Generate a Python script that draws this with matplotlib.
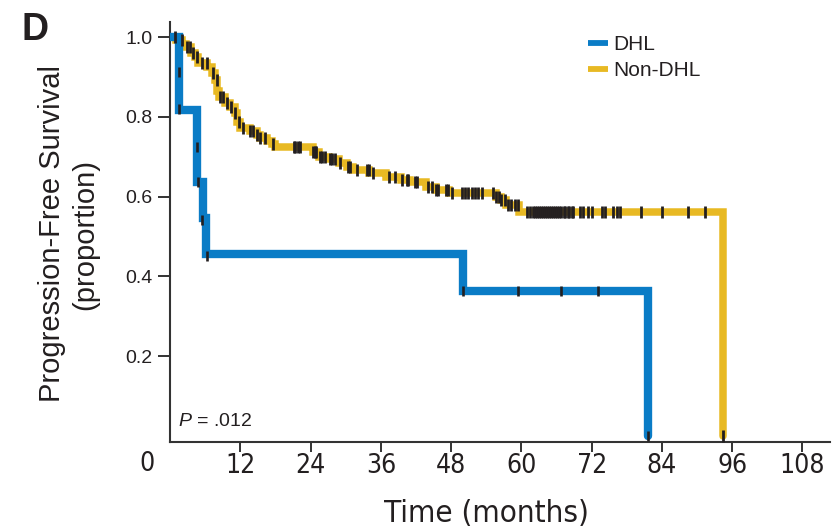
import matplotlib
matplotlib.use("Agg")
import matplotlib.pyplot as plt
from matplotlib.lines import Line2D
from matplotlib import font_manager
import numpy as np

plt.rcParams['font.family'] = ['Liberation Sans', 'DejaVu Sans']
plt.rcParams['mathtext.fontset'] = 'custom'
plt.rcParams['mathtext.it'] = 'Liberation Sans:italic'
plt.rcParams['mathtext.rm'] = 'Liberation Sans'

# Kaplan-Meier steps: time of event (months) and survival after the drop
dhl_t = [0, 1.5, 4.6, 5.6, 6.2, 50.0, 81.6]
dhl_s = [1.0, 0.818, 0.636, 0.545, 0.455, 0.364, 0.0]
# censor marks for DHL (time, level)
dhl_cens_t = [1.5, 1.5, 4.55, 4.8, 5.5, 6.3, 50.0, 59.4, 66.8, 73.1, 81.6]
dhl_cens_s = [0.913, 0.819, 0.725, 0.637, 0.541, 0.452, 0.364, 0.364, 0.364, 0.364, 0.0]

non_t = [0, 1.0, 2.0, 2.8, 3.6, 4.3, 4.8, 6.4, 7.2, 7.7, 8.0, 8.4, 9.4, 10.3, 11.1,
         11.5, 11.9, 13.6, 14.8, 15.4, 16.5, 17.4, 18.0, 24.4, 25.4, 27.2, 28.8,
         30.3, 31.2, 34.0, 36.8, 39.4, 41.0, 43.7, 45.4, 47.6, 55.6, 56.5, 57.4,
         59.6, 94.4]
non_s = [1.0, 0.992, 0.984, 0.976, 0.960, 0.951, 0.934, 0.926, 0.909, 0.892, 0.866,
         0.850, 0.834, 0.825, 0.810, 0.788, 0.772, 0.764, 0.755, 0.748, 0.740, 0.732,
         0.725, 0.712, 0.700, 0.695, 0.683, 0.674, 0.666, 0.658, 0.650, 0.642, 0.637,
         0.625, 0.616, 0.608, 0.599, 0.591, 0.579, 0.562, 0.0]
non_cens_t = [0.85, 1.99, 2.85, 3.41, 3.98, 4.55, 5.41, 6.26, 7.4, 7.97, 8.54, 9.1,
              9.67, 10.5, 11.1, 11.7, 12.5, 13.7, 14.2, 14.8, 15.4, 16.2, 17.6, 21.1,
              21.3, 21.9, 22.2, 24.5, 24.8, 25.0, 25.6, 25.9, 26.5, 27.3, 27.6, 28.2,
              29.0, 30.4, 30.7, 31.9, 33.6, 33.9, 34.7, 37.4, 38.4, 39.6, 40.4, 40.7,
              41.8, 42.1, 44.1, 44.7, 45.5, 45.8, 47.2, 47.5, 48.1, 49.8, 50.4, 50.9,
              51.5, 52.1, 52.6, 53.2, 55.2, 55.7, 56.1, 56.6, 57.2, 57.8, 58.3, 58.9,
              59.4, 60.9, 61.5, 62.0, 62.3, 62.6, 63.0, 63.3, 63.7, 64.0, 64.4, 64.7,
              65.1, 65.4, 65.8, 66.1, 66.5, 66.8, 67.2, 67.5, 67.9, 68.2, 68.6, 68.9,
              70.0, 70.6, 71.4, 72.0, 73.7, 74.3, 75.7, 76.3, 76.9, 80.5, 84.0, 88.5,
              91.3, 94.4]

x_ticks = [12, 24, 36, 48, 60, 72, 84, 96, 108]
y_ticks = [0.2, 0.4, 0.6, 0.8, 1.0]
y_labels = ['0.2', '0.4', '0.6', '0.8', '1.0']

BLUE = '#0a7cc6'
YELLOW = '#e8b923'
INK = '#231f20'

# a condensed face for the time axis, if one is around
cond_files = [f.fname for f in font_manager.fontManager.ttflist
              if ('Narrow' in f.fname or 'Condensed' in f.fname)
              and 'Bold' not in f.fname and 'Oblique' not in f.fname
              and 'Italic' not in f.fname]
cond_files.sort(key=lambda p: (0 if 'Liberation' in p else 1 if 'DejaVuSans' in p else 2))
if cond_files:
    def narrow(size):
        return font_manager.FontProperties(fname=cond_files[0], size=size)
    tick_size, xlab_size = 19, 22.5
else:
    def narrow(size):
        return font_manager.FontProperties(family='Liberation Sans', size=size)
    tick_size, xlab_size = 16, 19


def level_at(times, surv, t):
    # survival level of a step curve at time t
    i = np.searchsorted(times, t, side='right') - 1
    return surv[i]


fig = plt.figure(figsize=(8.37, 5.30), dpi=100)
ax = fig.add_axes([170 / 837, 1 - 441.7 / 530, 660 / 837, (441.7 - 22) / 530])

ax.step(dhl_t, dhl_s, where='post', color=BLUE, lw=6, solid_joinstyle='miter',
        solid_capstyle='round', zorder=3)
ax.step(non_t, non_s, where='post', color=YELLOW, lw=5.4, solid_joinstyle='miter',
        solid_capstyle='round', zorder=2)

ax.plot(dhl_cens_t, dhl_cens_s, ls='none', marker='|', ms=7, mew=1.9, color=INK, zorder=4)
non_cens_s = [level_at(non_t, non_s, t) for t in non_cens_t]
ax.plot(non_cens_t, non_cens_s, ls='none', marker='|', ms=8, mew=2.0, color=INK, zorder=4)

ax.set_xlim(0, 112.7)
ax.set_ylim(-0.015, 1.038)
ax.set_xticks(x_ticks)
ax.set_xticklabels([str(v) for v in x_ticks], fontproperties=narrow(tick_size), color=INK)
ax.set_yticks(y_ticks)
ax.set_yticklabels(y_labels, fontsize=14, color=INK)
ax.tick_params(axis='x', length=7, width=1.4, pad=1, color='#333333')
ax.tick_params(axis='y', length=8.4, width=1.4, pad=4, color='#333333')

for side in ['top', 'right']:
    ax.spines[side].set_visible(False)
for side in ['left', 'bottom']:
    ax.spines[side].set_linewidth(1.5)
    ax.spines[side].set_color('#333333')

# origin label sits left of the spine
ax.annotate('0', xy=(0, 0), xycoords='axes fraction', xytext=(-16.5, -6.7),
            textcoords='offset points', ha='center', va='top',
            fontproperties=narrow(tick_size), color=INK)

ax.text(1.4, 0.024, r'$\it{P}$ = .012', fontsize=14, color=INK)

handles = [Line2D([], [], color=BLUE, lw=4.2, solid_capstyle='butt'),
           Line2D([], [], color=YELLOW, lw=4.2, solid_capstyle='butt')]
fig.legend(handles, ['DHL', 'Non-DHL'], loc='upper left',
           bbox_to_anchor=(588 / 837, 1 - 35 / 530), frameon=False, fontsize=15,
           handlelength=0.97, handletextpad=0.25, labelspacing=0.36,
           borderpad=0, borderaxespad=0, labelcolor=INK)

fig.text(69 / 837, 1 - 234 / 530, 'Progression-Free Survival\n(proportion)',
         rotation=90, ha='center', va='center', multialignment='center',
         fontsize=21, linespacing=1.25, color=INK)
fig.text(487 / 837, 8 / 530, 'Time (months)', ha='center', va='baseline',
         fontproperties=narrow(xlab_size), color=INK)
fig.text(22 / 837, 1 - 40 / 530, 'D', ha='left', va='baseline',
         fontsize=27, fontweight='bold', color=INK)

fig.savefig('out.png', dpi=100)
